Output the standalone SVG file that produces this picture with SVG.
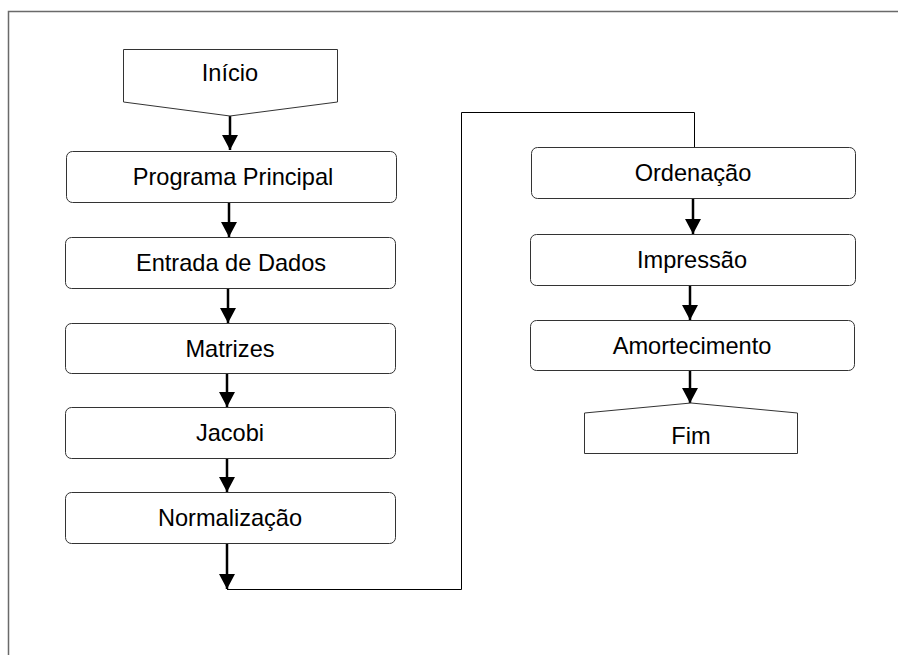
<svg xmlns="http://www.w3.org/2000/svg" width="898" height="655" viewBox="0 0 898 655">
<defs>
<style>
.frame{fill:none;stroke:#6a6a6a;stroke-width:1.5}
.box{fill:#fff;stroke:#333;stroke-width:1}
.lbl{font-family:"Liberation Sans",Arial,sans-serif;font-size:23.6px;fill:#000;text-anchor:middle}
.arr{fill:none;stroke:#000;stroke-width:2.5}
.thin{fill:none;stroke:#000;stroke-width:1}
</style>
<marker id="ah" markerUnits="userSpaceOnUse" markerWidth="16" markerHeight="16" refX="15" refY="8" orient="auto" viewBox="0 0 16 16">
<path d="M0,0 L15,8 L0,16 Z" fill="#000"/>
</marker>
</defs>
<rect class="frame" x="8.5" y="11.5" width="900" height="660"/>
<g id="connectors">
<path class="arr" d="M230,116 V150" marker-end="url(#ah)"/>
<path class="arr" d="M229,202 V237" marker-end="url(#ah)"/>
<path class="arr" d="M228,288 V323" marker-end="url(#ah)"/>
<path class="arr" d="M227,373 V407" marker-end="url(#ah)"/>
<path class="arr" d="M227,458 V492" marker-end="url(#ah)"/>
<path class="arr" d="M227,543 V589" marker-end="url(#ah)"/>
<path class="thin" d="M227,589.5 H461.5 V112.5 H694.5 V147"/>
<path class="arr" d="M693,198 V234" marker-end="url(#ah)"/>
<path class="arr" d="M690,285 V320" marker-end="url(#ah)"/>
<path class="arr" d="M690,370 V403" marker-end="url(#ah)"/>
</g>
<g id="inicio">
<polygon class="box" points="123.5,49.5 337.5,49.5 337.5,102 230,116 123.5,102"/>
<text class="lbl" x="230" y="81">Início</text>
</g>
<g id="programa">
<rect class="box" x="66.5" y="151.5" width="330" height="51" rx="6"/>
<text class="lbl" x="233" y="185">Programa Principal</text>
</g>
<g id="entrada">
<rect class="box" x="65.5" y="237.5" width="330" height="51" rx="6"/>
<text class="lbl" x="231" y="271">Entrada de Dados</text>
</g>
<g id="matrizes">
<rect class="box" x="65.5" y="323.5" width="330" height="50" rx="6"/>
<text class="lbl" x="230" y="357">Matrizes</text>
</g>
<g id="jacobi">
<rect class="box" x="65.5" y="407.5" width="330" height="51" rx="6"/>
<text class="lbl" x="230" y="441">Jacobi</text>
</g>
<g id="normalizacao">
<rect class="box" x="65.5" y="492.5" width="330" height="51" rx="6"/>
<text class="lbl" x="230" y="526">Normalização</text>
</g>
<g id="ordenacao">
<rect class="box" x="531.5" y="147.5" width="324" height="51" rx="6"/>
<text class="lbl" x="693" y="181">Ordenação</text>
</g>
<g id="impressao">
<rect class="box" x="530.5" y="234.5" width="325" height="51" rx="6"/>
<text class="lbl" x="692" y="268">Impressão</text>
</g>
<g id="amortecimento">
<rect class="box" x="530.5" y="320.5" width="324" height="50" rx="6"/>
<text class="lbl" x="692" y="354">Amortecimento</text>
</g>
<g id="fim">
<polygon class="box" points="584.5,413 691,403 797.5,413 797.5,453.5 584.5,453.5"/>
<text class="lbl" x="691" y="444">Fim</text>
</g>
</svg>
